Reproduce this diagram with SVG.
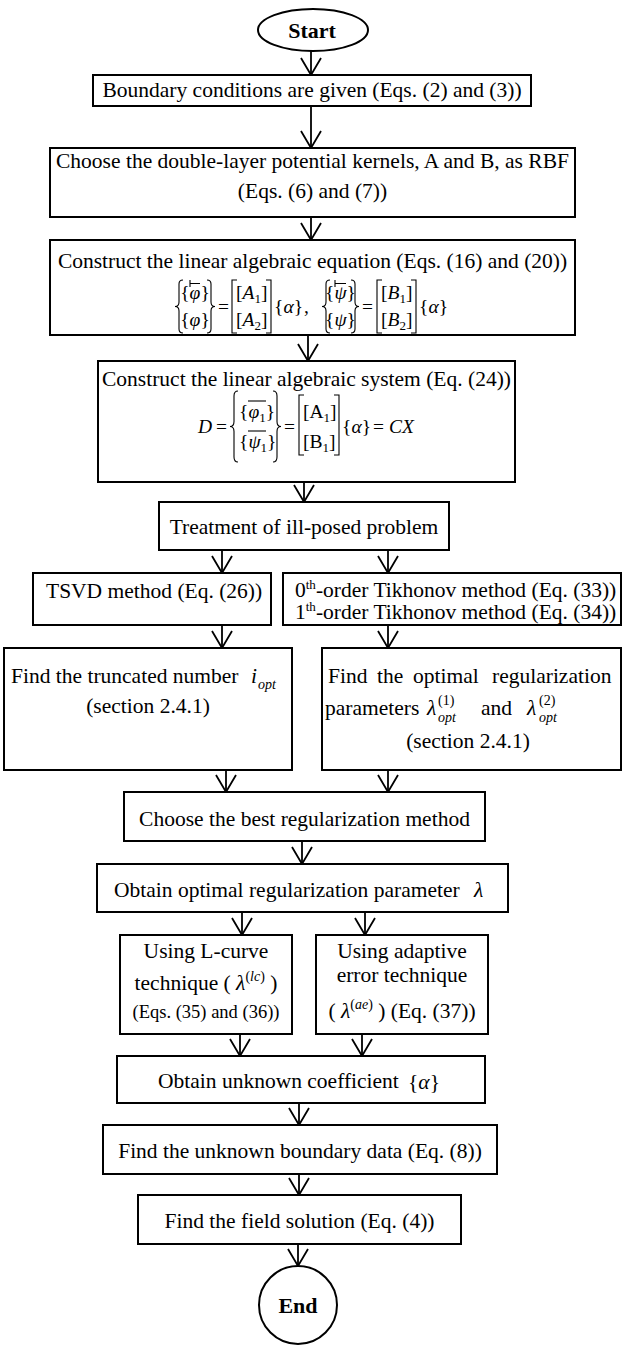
<svg xmlns="http://www.w3.org/2000/svg" width="627" height="1345" viewBox="0 0 627 1345">
<defs>
<style>
.bx{fill:#fff;stroke:#000;stroke-width:2}
.t{font-family:"Liberation Serif","Times New Roman",serif;font-size:21.5px;fill:#000}
.c{text-anchor:middle}
.bold{font-weight:bold;font-size:22px}
.i{font-style:italic}
.m{font-size:19.5px}
.sm{font-size:14px}
.eq3{font-size:18.5px}
.dl{fill:none;stroke:#000;stroke-width:1.1}
.cn line{stroke:#000;stroke-width:1.8;marker-end:url(#ah)}
</style>
<marker id="ah" viewBox="-18 -11 20 22" refX="0" refY="0" markerWidth="20" markerHeight="22" markerUnits="userSpaceOnUse" orient="auto">
<path d="M-17,-10 L0,0 L-17,10" fill="none" stroke="#000" stroke-width="1.8"/>
</marker>
</defs>
<rect width="627" height="1345" fill="#fff"/>

<g id="connectors" class="cn">
<line x1="311" y1="51" x2="311" y2="75"/>
<line x1="311" y1="106" x2="311" y2="148"/>
<line x1="311" y1="217" x2="311" y2="240"/>
<line x1="308" y1="335" x2="308" y2="361"/>
<line x1="304" y1="482" x2="304" y2="502"/>
<line x1="222" y1="550" x2="222" y2="573"/>
<line x1="388" y1="550" x2="388" y2="573"/>
<line x1="222" y1="625" x2="222" y2="648"/>
<line x1="388" y1="625" x2="388" y2="648"/>
<line x1="226" y1="770" x2="226" y2="792"/>
<line x1="388" y1="770" x2="388" y2="792"/>
<line x1="302" y1="841" x2="302" y2="864"/>
<line x1="242" y1="912" x2="242" y2="935"/>
<line x1="365" y1="912" x2="365" y2="935"/>
<line x1="240" y1="1034" x2="240" y2="1056"/>
<line x1="362" y1="1034" x2="362" y2="1056"/>
<line x1="299" y1="1103" x2="299" y2="1125"/>
<line x1="299" y1="1174" x2="299" y2="1195"/>
<line x1="298" y1="1244" x2="298" y2="1266"/>
</g>

<g id="start">
<ellipse class="bx" cx="313" cy="30" rx="55" ry="21"/>
<text class="t c bold" x="312" y="38">Start</text>
</g>

<g id="boundary">
<rect class="bx" x="93" y="75" width="438" height="31"/>
<text class="t c" x="312" y="97">Boundary conditions are given (Eqs. (2) and (3))</text>
</g>

<g id="kernels">
<rect class="bx" x="50" y="148" width="525" height="69"/>
<text class="t c" x="312.5" y="168">Choose the double-layer potential kernels, A and B, as RBF</text>
<text class="t c" x="312.5" y="198">(Eqs. (6) and (7))</text>
</g>

<g id="equation">
<rect class="bx" x="50" y="240" width="525" height="95"/>
<text class="t c" x="312.5" y="268">Construct the linear algebraic equation (Eqs. (16) and (20))</text>
<path class="dl" d="M183,280 Q179,280 179,284 L179,302 Q179,306.5 175,306.5 Q179,306.5 179,311 L179,329 Q179,333 183,333"/>
<text class="t m c" x="195" y="299">{<tspan class="i">φ</tspan>}</text>
<path class="dl" d="M190,280 L190,287 M190,283.5 L200,283.5"/>
<text class="t m c" x="195" y="326">{<tspan class="i">φ</tspan>}</text>
<path class="dl" d="M207,280 Q211,280 211,284 L211,302 Q211,306.5 215,306.5 Q211,306.5 211,311 L211,329 Q211,333 207,333"/>
<text class="t m" x="218" y="313">=</text>
<path class="dl" d="M237,280 L232,280 L232,333 L237,333"/>
<text class="t m" x="236" y="299">[<tspan class="i">A</tspan><tspan font-size="13" dy="4">1</tspan><tspan dy="-4">]</tspan></text>
<text class="t m" x="236" y="326">[<tspan class="i">A</tspan><tspan font-size="13" dy="4">2</tspan><tspan dy="-4">]</tspan></text>
<path class="dl" d="M266,280 L271,280 L271,333 L266,333"/>
<text class="t m" x="274" y="313">{<tspan class="i">α</tspan>}</text>
<text class="t m" x="304" y="313">,</text>
<path class="dl" d="M330,280 Q326,280 326,284 L326,302 Q326,306.5 322,306.5 Q326,306.5 326,311 L326,329 Q326,333 330,333"/>
<text class="t m c" x="340.5" y="299">{<tspan class="i">ψ</tspan>}</text>
<path class="dl" d="M335,280 L335,287 M335,283.5 L346,283.5"/>
<text class="t m c" x="340.5" y="326">{<tspan class="i">ψ</tspan>}</text>
<path class="dl" d="M351,280 Q355,280 355,284 L355,302 Q355,306.5 359,306.5 Q355,306.5 355,311 L355,329 Q355,333 351,333"/>
<text class="t m" x="362" y="313">=</text>
<path class="dl" d="M382,280 L377,280 L377,333 L382,333"/>
<text class="t m" x="381" y="299">[<tspan class="i">B</tspan><tspan font-size="13" dy="4">1</tspan><tspan dy="-4">]</tspan></text>
<text class="t m" x="381" y="326">[<tspan class="i">B</tspan><tspan font-size="13" dy="4">2</tspan><tspan dy="-4">]</tspan></text>
<path class="dl" d="M411,280 L416,280 L416,333 L411,333"/>
<text class="t m" x="419" y="313">{<tspan class="i">α</tspan>}</text>
</g>

<g id="system">
<rect class="bx" x="98" y="361" width="417" height="121"/>
<text class="t c" x="306.5" y="386">Construct the linear algebraic system (Eq. (24))</text>
<text class="t m i" x="198" y="433">D</text>
<text class="t m" x="216" y="433">=</text>
<path class="dl" d="M238,391 Q234,391 234,396 L234,421.5 Q234,426.5 230,426.5 Q234,426.5 234,431.5 L234,457 Q234,462 238,462"/>
<text class="t m" x="239" y="418">{<tspan class="i">φ</tspan><tspan font-size="13" dy="4">1</tspan><tspan dy="-4">}</tspan></text>
<path class="dl" d="M248,401 L266,401"/>
<text class="t m" x="239" y="448">{<tspan class="i">ψ</tspan><tspan font-size="13" dy="4">1</tspan><tspan dy="-4">}</tspan></text>
<path class="dl" d="M248,431 L266,431"/>
<path class="dl" d="M273,391 Q277,391 277,396 L277,421.5 Q277,426.5 281,426.5 Q277,426.5 277,431.5 L277,457 Q277,462 273,462"/>
<text class="t m" x="284" y="433">=</text>
<path class="dl" d="M304,395 L299,395 L299,455 L304,455"/>
<text class="t m" x="303" y="418">[A<tspan font-size="13" dy="4">1</tspan><tspan dy="-4">]</tspan></text>
<text class="t m" x="303" y="448">[B<tspan font-size="13" dy="4">1</tspan><tspan dy="-4">]</tspan></text>
<path class="dl" d="M334,395 L339,395 L339,455 L334,455"/>
<text class="t m" x="342" y="433">{<tspan class="i">α</tspan>}</text>
<text class="t m" x="373" y="433">= <tspan class="i">CX</tspan></text>
</g>

<g id="illposed">
<rect class="bx" x="159" y="502" width="290" height="48"/>
<text class="t c" x="304" y="534">Treatment of ill-posed problem</text>
</g>

<g id="tsvd">
<rect class="bx" x="33" y="573" width="238" height="52"/>
<text class="t" x="46" y="598">TSVD method (Eq. (26))</text>
</g>

<g id="tikhonov">
<rect class="bx" x="283" y="573" width="338" height="52"/>
<text class="t" x="295" y="597">0<tspan font-size="13" dy="-8">th</tspan><tspan dy="8">-order Tikhonov method (Eq. (33))</tspan></text>
<text class="t" x="295" y="619">1<tspan font-size="13" dy="-8">th</tspan><tspan dy="8">-order Tikhonov method (Eq. (34))</tspan></text>
</g>

<g id="truncated">
<rect class="bx" x="4" y="648" width="288" height="122"/>
<text class="t" x="11" y="683">Find the truncated number</text>
<text class="t i" x="251" y="683">i</text>
<text class="t i sm" x="258" y="689">opt</text>
<text class="t c" x="148" y="713">(section 2.4.1)</text>
</g>

<g id="optimal">
<rect class="bx" x="322" y="648" width="299" height="122"/>
<text class="t" x="328" y="683">Find</text>
<text class="t" x="377" y="683">the</text>
<text class="t" x="413" y="683">optimal</text>
<text class="t" x="492" y="683">regularization</text>
<text class="t" x="325" y="715">parameters</text>
<text class="t i" x="427" y="715">λ</text>
<text class="t sm" x="438" y="705">(1)</text>
<text class="t i sm" x="438" y="722">opt</text>
<text class="t" x="481" y="715">and</text>
<text class="t i" x="527" y="715">λ</text>
<text class="t sm" x="539" y="705">(2)</text>
<text class="t i sm" x="539" y="722">opt</text>
<text class="t c" x="468" y="748">(section 2.4.1)</text>
</g>

<g id="best">
<rect class="bx" x="124" y="792" width="361" height="49"/>
<text class="t c" x="304.5" y="826">Choose the best regularization method</text>
</g>

<g id="parameter">
<rect class="bx" x="97" y="864" width="411" height="48"/>
<text class="t" x="114" y="897">Obtain optimal regularization parameter</text>
<text class="t i" x="474" y="897">λ</text>
</g>

<g id="lcurve">
<rect class="bx" x="120" y="935" width="172" height="99"/>
<text class="t c" x="206" y="958">Using L-curve</text>
<text class="t c" x="206" y="990">technique ( <tspan class="i">λ</tspan><tspan class="sm" dy="-9">(<tspan class="i">lc</tspan>)</tspan><tspan dy="9"> )</tspan></text>
<text class="t c eq3" x="206" y="1018">(Eqs. (35) and (36))</text>
</g>

<g id="adaptive">
<rect class="bx" x="316" y="935" width="172" height="99"/>
<text class="t c" x="402" y="958">Using adaptive</text>
<text class="t c" x="402" y="982">error technique</text>
<text class="t c" x="402" y="1018">( <tspan class="i">λ</tspan><tspan class="sm" dy="-9">(<tspan class="i">ae</tspan>)</tspan><tspan dy="9"> ) (Eq. (37))</tspan></text>
</g>

<g id="coefficient">
<rect class="bx" x="117" y="1056" width="368" height="47"/>
<text class="t" x="158" y="1088">Obtain unknown coefficient</text>
<text class="t" x="408" y="1089">{<tspan class="i">α</tspan>}</text>
</g>

<g id="boundarydata">
<rect class="bx" x="103" y="1125" width="394" height="49"/>
<text class="t c" x="300" y="1158">Find the unknown boundary data (Eq. (8))</text>
</g>

<g id="field">
<rect class="bx" x="138" y="1195" width="323" height="49"/>
<text class="t c" x="299.5" y="1228">Find the field solution (Eq. (4))</text>
</g>

<g id="end">
<circle class="bx" cx="298" cy="1305" r="39"/>
<text class="t c bold" x="298" y="1313">End</text>
</g>
</svg>
